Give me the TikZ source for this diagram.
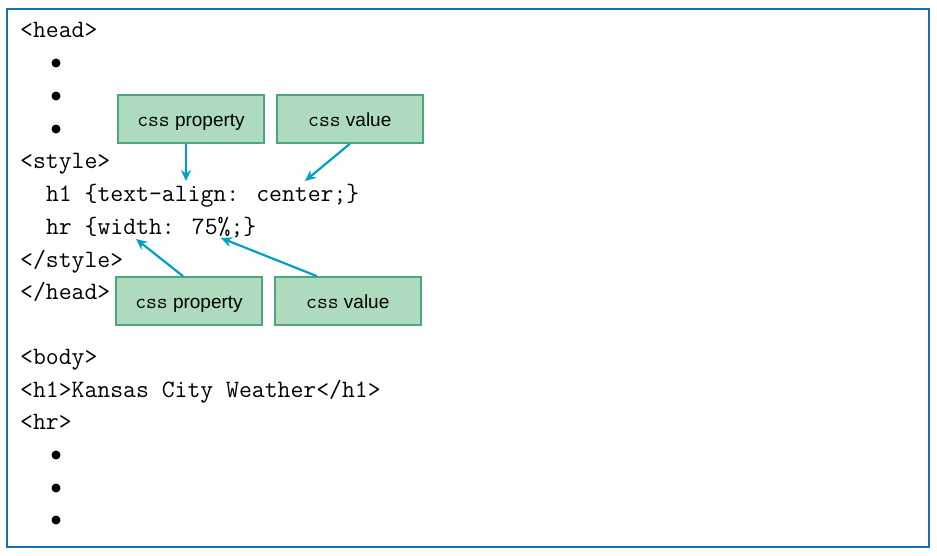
\documentclass[tikz,border=0pt]{standalone}
\usepackage{fontspec}
\setsansfont{Liberation Sans}
\usetikzlibrary{
		calc,
		arrows.meta,
		positioning
	}
\definecolor{frameblue}{RGB}{25,112,176}
\definecolor{tagfill}{RGB}{174,219,190}
\definecolor{tagedge}{RGB}{78,166,128}
\definecolor{arrcyan}{RGB}{0,160,198}
\tikzset{
		>={Stealth[length=11pt,width=10pt]}
	}
\newcommand{\csstag}{{\fontsize{21}{22}\selectfont\ttfamily css}}

\begin{document}
\begin{tikzpicture}[x=1pt,y=-1pt,
    code/.style={anchor=base west,inner sep=0pt,font=\fontsize{25}{28}\selectfont\ttfamily},
    dot/.style={circle,fill=black,inner sep=0pt,minimum size=9pt},
    tag/.style={draw=tagedge,fill=tagfill,line width=1.8pt,minimum width=146pt,minimum height=48pt,inner sep=0pt,text height=14pt,text depth=0pt,font=\fontsize{19}{22}\selectfont\sffamily},
    arr/.style={->,draw=arrcyan,line width=2.2pt}]

          \useasboundingbox (0,0) rectangle (937,555);
          \draw[frameblue,line width=2pt] (7,9) rectangle (929,547);

          % head part
          \node[code] (head) at (20,37) {<head>};
          \node[dot] (d1) at (56,63) {};
          \node[dot] (d2) at (56,96) {};
          \node[dot] (d3) at (56,129) {};
          \node[code] (style) at (20,168) {<style>};
          \node[code] (rule1) at (45.8,201) {h1 \{text-align: center;\}};
          \node[code] (rule2) at (45.8,234) {hr \{width: 75\%;\}};
          \node[code] (estyle) at (20,267) {</style>};
          \node[code] (ehead) at (20,299) {</head>};

          % body part
          \node[code] (body) at (20,364) {<body>};
          \node[code] (title) at (20,397) {<h1>Kansas City Weather</h1>};
          \node[code] (hrule) at (20,429) {<hr>};
          \node[dot] (d4) at (56,455) {};
          \node[dot] (d5) at (56,488) {};
          \node[dot] (d6) at (56,520) {};

          % labels
          \node[tag] (pa) at (191,119) {\csstag\ property};
          \node[tag,right=11pt of pa] (va) {\csstag\ value};
          \node[tag] (pb) at (189,301) {\csstag\ property};
          \node[tag,right=11pt of pb] (vb) {\csstag\ value};

          \coordinate (pa tip) at (186,181);
          \coordinate (va tip) at (305,181);
          \coordinate (pb tip) at (136,239);
          \coordinate (vb tip) at (221,238);

          \draw[arr] (pa.south -| pa tip) -- (pa tip);
          \draw[arr] (va.south) -- (va tip);
          \draw[arr] ($(pb.north)+(-6,0)$) -- (pb tip);
          \draw[arr] ($(vb.north)+(-31,0)$) -- (vb tip);

\end{tikzpicture}
\end{document}
